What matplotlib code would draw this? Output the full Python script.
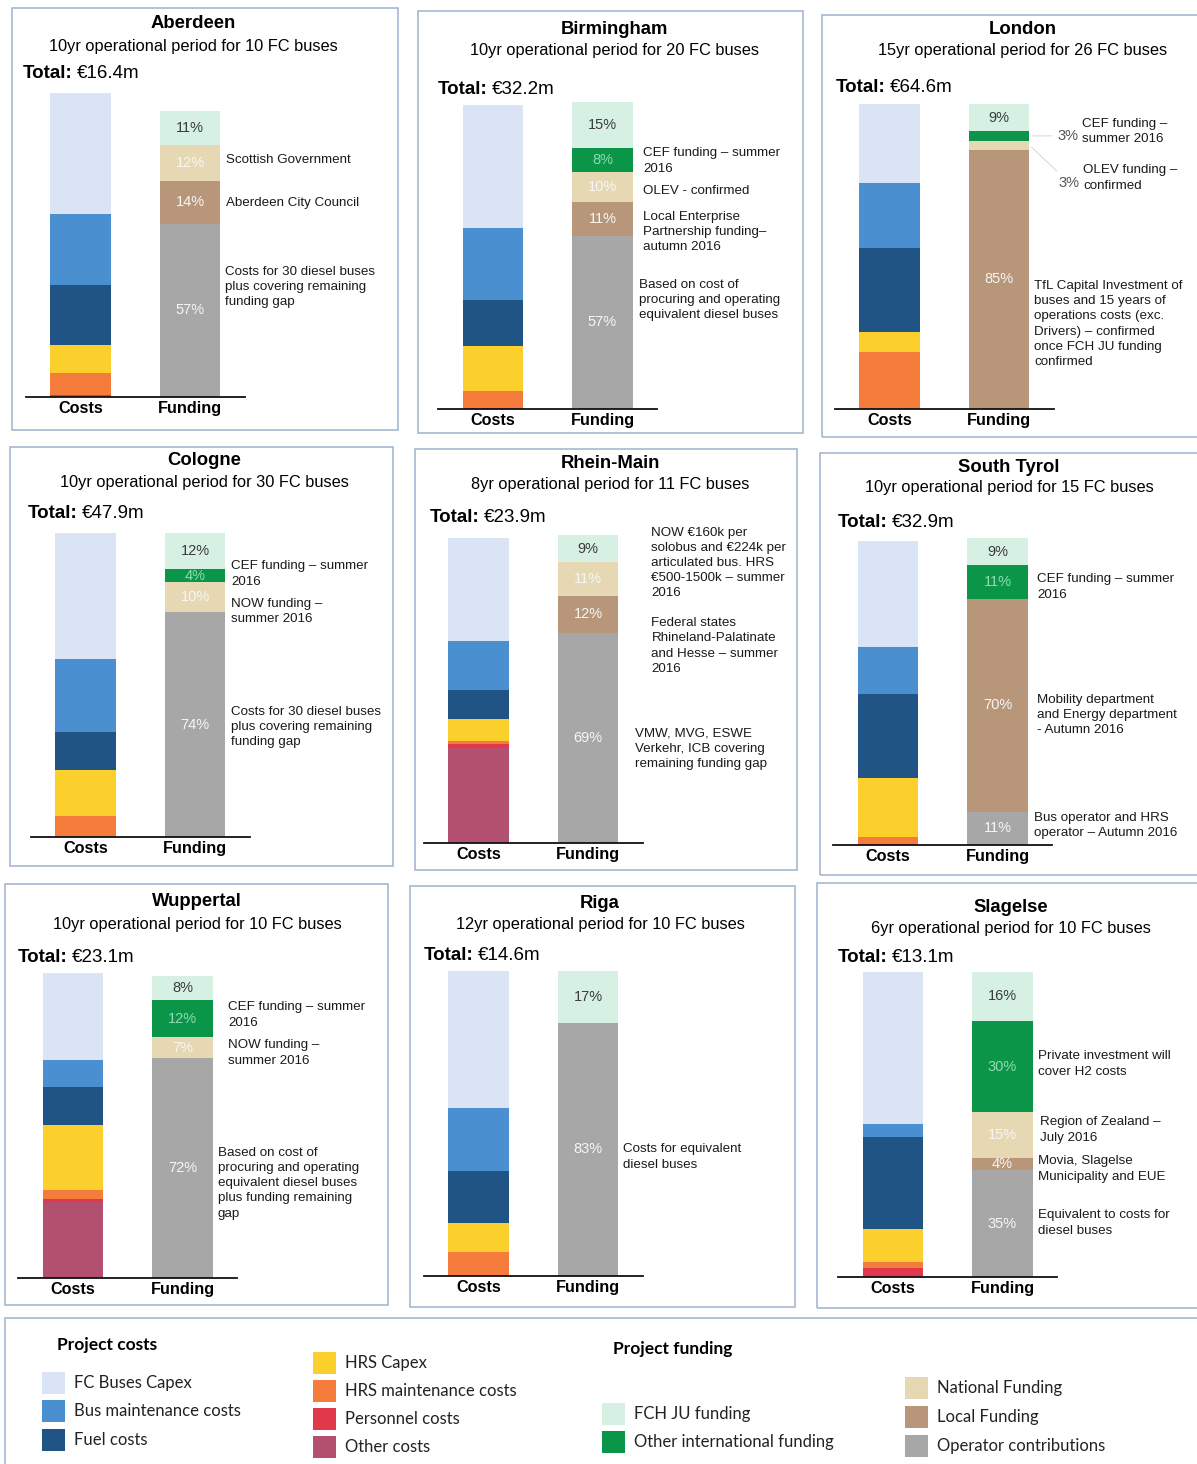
import matplotlib.pyplot as plt
from matplotlib.patches import Rectangle

plt.rcParams['font.family'] = ['Liberation Sans', 'DejaVu Sans']

W, H = 1197, 1464

cities = ["Aberdeen", "Birmingham", "London", "Cologne", "Rhein-Main",
          "South Tyrol", "Wuppertal", "Riga", "Slagelse"]
subtitles = ["10yr operational period for 10 FC buses",
             "10yr operational period for 20 FC buses",
             "15yr operational period for 26 FC buses",
             "10yr operational period for 30 FC buses",
             "8yr operational period for 11 FC buses",
             "10yr operational period for 15 FC buses",
             "10yr operational period for 10 FC buses",
             "12yr operational period for 10 FC buses",
             "6yr operational period for 10 FC buses"]
totals = ["€16.4m", "€32.2m", "€64.6m", "€47.9m", "€23.9m",
          "€32.9m", "€23.1m", "€14.6m", "€13.1m"]

# cost shares (% of total)
fc_capex = [39.7, 40.3, 25.9, 41.4, 33.9, 34.8, 28.5, 44.8, 49.7]
bus_maint = [23.4, 23.8, 21.3, 24.0, 15.8, 15.6, 8.8, 20.8, 4.4]
fuel = [19.7, 15.3, 27.6, 12.6, 9.5, 27.7, 12.6, 16.9, 30.0]
hrs_capex = [9.3, 14.8, 6.6, 15.2, 7.2, 19.2, 21.4, 9.6, 10.9]
hrs_maint = [7.1, 5.5, 18.6, 6.8, 1.3, 2.5, 2.7, 7.9, 1.9]
personnel = [0.8, 0.3, 0, 0, 1.1, 0.2, 1.0, 0, 3.1]
other_costs = [0, 0, 0, 0, 31.2, 0, 25.0, 0, 0]

# funding shares (% of total cost)
fch_ju = [11, 15, 9, 12, 9, 9, 8, 17, 16]
other_intl = [0, 8, 3, 4, 0, 11, 12, 0, 30]
national = [12, 10, 3, 10, 11, 0, 7, 0, 15]
local = [14, 11, 85, 0, 12, 70, 0, 0, 4]
operator = [57, 57, 0, 74, 69, 11, 72, 83, 35]

cost_labels = ["Other costs", "Personnel costs", "HRS maintenance costs", "HRS Capex",
               "Fuel costs", "Bus maintenance costs", "FC Buses Capex"]
cost_series = [other_costs, personnel, hrs_maint, hrs_capex, fuel, bus_maint, fc_capex]
fund_labels = ["Operator contributions", "Local Funding", "National Funding",
               "Other international funding", "FCH JU funding"]
fund_series = [operator, local, national, other_intl, fch_ju]

# notes next to the funding bar: (category, y in % units, x gap px, text)
notes = [
    [("National Funding", 78.0, 6, "Scottish Government"),
     ("Local Funding", 63.8, 6, "Aberdeen City Council"),
     ("Operator contributions", 36.2, 5, "Costs for 30 diesel buses\nplus covering remaining\nfunding gap")],
    [("Other international funding", 81.6, 10, "CEF funding – summer\n2016"),
     ("National Funding", 71.7, 10, "OLEV - confirmed"),
     ("Local Funding", 58.2, 10, "Local Enterprise\nPartnership funding–\nautumn 2016"),
     ("Operator contributions", 35.9, 6, "Based on cost of\nprocuring and operating\nequivalent diesel buses")],
    [("Other international funding", 91.1, 53, "CEF funding –\nsummer 2016"),
     ("National Funding", 75.7, 54, "OLEV funding –\nconfirmed"),
     ("Local Funding", 27.9, 5, "TfL Capital Investment of\nbuses and 15 years of\noperations costs (exc.\n"
                               "Drivers) – confirmed\nonce FCH JU funding\nconfirmed")],
    [("Other international funding", 86.5, 6, "CEF funding – summer\n2016"),
     ("National Funding", 74.3, 6, "NOW funding –\nsummer 2016"),
     ("Operator contributions", 36.2, 6, "Costs for 30 diesel buses\nplus covering remaining\nfunding gap")],
    [("National Funding", 91.8, 33, "NOW €160k per\nsolobus and €224k per\narticulated bus. HRS\n€500-1500k – summer\n2016"),
     ("Local Funding", 64.6, 33, "Federal states\nRhineland-Palatinate\nand Hesse – summer\n2016"),
     ("Operator contributions", 30.8, 17, "VMW, MVG, ESWE\nVerkehr, ICB covering\nremaining funding gap")],
    [("Other international funding", 84.9, 9, "CEF funding – summer\n2016"),
     ("Local Funding", 42.8, 9, "Mobility department\nand Energy department\n- Autumn 2016"),
     ("Operator contributions", 6.3, 6, "Bus operator and HRS\noperator – Autumn 2016")],
    [("Other international funding", 86.2, 15, "CEF funding – summer\n2016"),
     ("National Funding", 73.8, 15, "NOW funding –\nsummer 2016"),
     ("Operator contributions", 31.1, 5, "Based on cost of\nprocuring and operating\nequivalent diesel buses\n"
                                        "plus funding remaining\ngap")],
    [("Operator contributions", 39.0, 5, "Costs for equivalent\ndiesel buses")],
    [("Other international funding", 69.8, 5, "Private investment will\ncover H2 costs"),
     ("National Funding", 48.2, 7, "Region of Zealand –\nJuly 2016"),
     ("Local Funding", 35.4, 5, "Movia, Slagelse\nMunicipality and EUE"),
     ("Operator contributions", 17.7, 5, "Equivalent to costs for\ndiesel buses")],
]

colors = {
    "FC Buses Capex": "#dae4f4",
    "Bus maintenance costs": "#4a8fcf",
    "Fuel costs": "#1f5484",
    "HRS Capex": "#fbcf2c",
    "HRS maintenance costs": "#f67c3c",
    "Personnel costs": "#e2384c",
    "Other costs": "#b4506f",
    "FCH JU funding": "#d6f1e4",
    "Other international funding": "#0b9548",
    "National Funding": "#e6d8b2",
    "Local Funding": "#b8967a",
    "Operator contributions": "#a7a7a7",
}
pct_colors = {
    "FCH JU funding": "#3c3c3c",
    "Other international funding": "#8fdcb2",
    "National Funding": "#f6f6f6",
    "Local Funding": "#f6f6f6",
    "Operator contributions": "#f6f6f6",
}

# layout, in pixels of the page
boxes = [(12, 8, 398, 430), (418, 11, 803, 433), (822, 15, 1210, 437),
         (10, 447, 393, 866), (415, 449, 797, 870), (820, 453, 1210, 875),
         (5, 884, 388, 1305), (410, 886, 795, 1307), (817, 883, 1210, 1308)]
bars = [(80.5, 397, 93), (493, 409, 105), (889.5, 409, 104),
        (85.5, 837, 533), (478.5, 843, 538), (888, 845, 541),
        (73, 1278, 973), (478.5, 1276, 971), (893, 1277, 972)]
heads = [(193, 24, 46, 23, 74), (614, 30, 51, 438, 89), (1023, 29, 51, 836, 87),
         (204, 461, 483, 28, 513), (610, 463, 485, 430, 518), (1009, 467, 488, 838, 523),
         (197, 902, 924, 18, 957), (600, 903, 925, 424, 955), (1011, 907, 928, 838, 957)]
SP = 109.5
BW = 0.557
BOX_EDGE = "#9db2cf"


def fx(x):
    return x / W


def fy(y):
    return 1 - y / H


fig = plt.figure(figsize=(W / 100, H / 100), dpi=100)
fig.patch.set_facecolor("white")

for i, city in enumerate(cities):
    l, t, r, b = boxes[i]
    fig.add_artist(Rectangle((fx(l), fy(b)), (r - l) / W, (b - t) / H, transform=fig.transFigure,
                             fill=False, edgecolor=BOX_EDGE, lw=1.1))
    tcx, ty, sy, tx, toty = heads[i]
    fig.text(fx(tcx), fy(ty), city, ha="center", va="center", fontsize=13.3, fontweight="bold")
    fig.text(fx(tcx), fy(sy), subtitles[i], ha="center", va="center", fontsize=11.8)

    cx, base, top = bars[i]
    ax = fig.add_axes([fx(cx - 0.5 * SP), fy(base), 2 * SP / W, (base - top) / H])
    ax.set_xlim(-0.5, 1.5)
    ax.set_ylim(0, 100)
    ax.patch.set_alpha(0)

    t1 = fig.text(fx(tx), fy(toty), "Total:", ha="left", va="center", fontsize=13.5, fontweight="bold")
    ax.annotate(totals[i], xy=(1, 0.5), xycoords=t1, xytext=(3, 0), textcoords="offset points",
                ha="left", va="center", fontsize=13.5, annotation_clip=False)

    bottom = 0
    for lab, vals in zip(cost_labels, cost_series):
        v = vals[i]
        if v > 0:
            ax.bar(0, v, bottom=bottom, width=BW, color=colors[lab], lw=0, clip_on=False)
            bottom += v

    seg_mid = {}
    bottom = 0
    for lab, vals in zip(fund_labels, fund_series):
        v = vals[i]
        if v > 0:
            ax.bar(1, v, bottom=bottom, width=BW, color=colors[lab], lw=0, clip_on=False)
            seg_mid[lab] = bottom + v / 2
            if v > 3:
                ax.text(1, bottom + v / 2, f"{v}%", ha="center", va="center",
                        fontsize=10.5, color=pct_colors[lab])
            bottom += v

    right = 1 + BW / 2
    for lab, y, dx, txt in notes[i]:
        xt = right + dx / SP
        ax.text(xt, y, txt, ha="left", va="center", fontsize=9.6, linespacing=1.36,
                color="#1a1a1a", clip_on=False)
        v = fund_series[fund_labels.index(lab)][i]
        if 0 < v <= 3:
            ax.annotate(f"{v}%", xy=(right, seg_mid[lab]), xytext=(xt - 4 / SP, y - 1.5),
                        textcoords="data", ha="right", va="center", fontsize=10.5, color="#555555",
                        arrowprops=dict(arrowstyle="-", color="#d0d0d0", lw=0.6), annotation_clip=False)

    ax.set_xticks([0, 1], ["Costs", "Funding"])
    for lbl in ax.get_xticklabels():
        lbl.set_fontweight("bold")
        lbl.set_fontsize(11.7)
    ax.tick_params(axis="x", length=0, pad=3)
    ax.set_yticks([])
    for s in ["left", "right", "top"]:
        ax.spines[s].set_visible(False)
    ax.spines["bottom"].set_linewidth(1.3)
    ax.spines["bottom"].set_color("#111111")

# legend panel
fig.add_artist(Rectangle((fx(5), fy(1470)), (1210 - 5) / W, (1470 - 1318) / H, transform=fig.transFigure,
                         fill=False, edgecolor=BOX_EDGE, lw=1.1))
leg_font = ["Lato", "DejaVu Sans"]
fig.text(fx(57), fy(1345), "Project costs", ha="left", va="center", fontsize=12.5,
         fontweight="bold", family=leg_font)
fig.text(fx(613), fy(1349), "Project funding", ha="left", va="center", fontsize=12.5,
         fontweight="bold", family=leg_font)
legend_items = [
    ("FC Buses Capex", 42, 1383), ("Bus maintenance costs", 42, 1411), ("Fuel costs", 42, 1440),
    ("HRS Capex", 313, 1363), ("HRS maintenance costs", 313, 1391),
    ("Personnel costs", 313, 1419), ("Other costs", 313, 1447),
    ("FCH JU funding", 602, 1414), ("Other international funding", 602, 1442),
    ("National Funding", 905, 1388), ("Local Funding", 905, 1417), ("Operator contributions", 905, 1446),
]
for lab, x, y in legend_items:
    fig.add_artist(Rectangle((fx(x), fy(y + 11)), 23 / W, 22 / H, transform=fig.transFigure,
                             facecolor=colors[lab], edgecolor="none"))
    fig.text(fx(x + 32), fy(y), lab, ha="left", va="center", fontsize=12, family=leg_font,
             color="#222222")

fig.savefig("out.png", dpi=100, facecolor="white")
